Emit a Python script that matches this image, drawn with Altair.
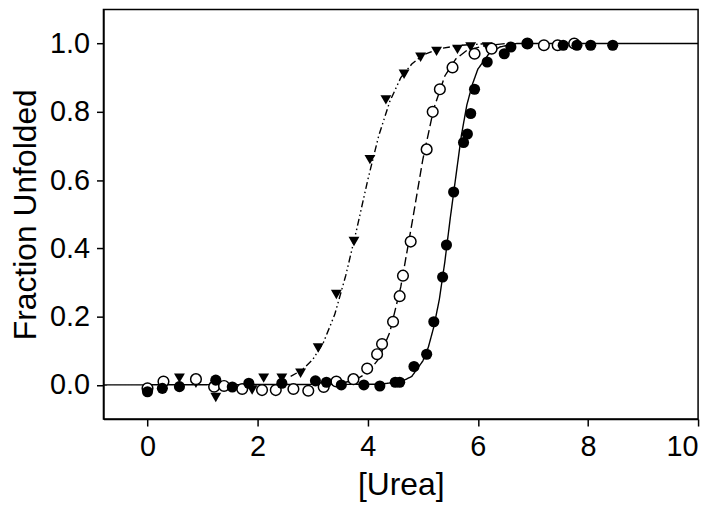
import altair as alt
import pandas as pd

# Data points
filled_x = [0.0, 0.27, 0.58, 1.24, 1.54, 1.84, 2.44, 3.05, 3.25, 3.52, 3.93, 4.22, 4.5, 4.58, 4.84,
            5.07, 5.2, 5.36, 5.43, 5.56, 5.74, 5.81, 5.87, 5.94, 6.17, 6.48, 6.6, 6.9, 7.55, 7.8, 8.05, 8.45]
filled_y = [-0.02, -0.01, -0.005, 0.014, -0.006, 0.005, 0.005, 0.012, 0.008, 0.0, 0.0, -0.003, 0.008, 0.008, 0.054,
            0.09, 0.185, 0.316, 0.41, 0.565, 0.71, 0.735, 0.795, 0.866, 0.946, 0.97, 0.99, 1.0, 0.995, 0.995, 0.995, 0.995]

open_x = [0.0, 0.29, 0.88, 1.21, 1.39, 1.72, 2.08, 2.33, 2.65, 2.92, 3.2, 3.43, 3.74, 3.99, 4.17, 4.26,
          4.46, 4.58, 4.64, 4.78, 5.07, 5.18, 5.31, 5.54, 5.94, 6.25, 6.9, 7.2, 7.45, 7.75]
open_y = [-0.01, 0.01, 0.017, -0.005, -0.003, -0.012, -0.015, -0.015, -0.012, -0.017, -0.006, 0.01, 0.017, 0.048, 0.09, 0.12,
          0.185, 0.26, 0.32, 0.42, 0.69, 0.80, 0.866, 0.93, 0.97, 0.985, 1.0, 0.995, 0.995, 1.0]

tri_x = [0.58, 0.88, 1.24, 1.9, 2.11, 2.44, 2.78, 3.1, 3.43, 3.75, 4.04, 4.33, 4.66, 4.96, 5.25, 5.63, 5.87, 6.17]
tri_y = [0.02, 0.005, -0.037, -0.015, 0.02, 0.02, 0.034, 0.108, 0.265, 0.42, 0.66, 0.835, 0.91, 0.96, 0.977, 0.983, 0.99, 0.99]

# Fitted curves
solid_x = [-0.8, 4.2, 4.6, 4.8, 5.0, 5.1, 5.2, 5.3, 5.4, 5.5, 5.6, 5.7, 5.8, 5.9, 6.0, 6.2, 6.4, 6.7, 10.0]
solid_y = [0.0, 0.002, 0.009, 0.025, 0.07, 0.11, 0.17, 0.25, 0.36, 0.49, 0.61, 0.73, 0.82, 0.88, 0.925, 0.97, 0.99, 1.0, 1.0]

dashed_x = [3.3, 3.6, 3.8, 4.0, 4.2, 4.4, 4.6, 4.8, 5.0, 5.2, 5.4, 5.6, 5.8, 6.1, 6.5]
dashed_y = [0.003, 0.008, 0.017, 0.036, 0.076, 0.154, 0.287, 0.47, 0.66, 0.81, 0.905, 0.955, 0.98, 0.993, 1.0]

dashdot_x = [2.6, 2.8, 3.0, 3.2, 3.4, 3.6, 3.8, 4.0, 4.2, 4.4, 4.6, 4.8, 5.0, 5.3, 5.7, 6.2]
dashdot_y = [0.025, 0.043, 0.074, 0.126, 0.206, 0.32, 0.456, 0.6, 0.73, 0.83, 0.9, 0.94, 0.966, 0.985, 0.995, 1.0]

x_ticks = [0, 2, 4, 6, 8, 10]
y_ticks = [0.0, 0.2, 0.4, 0.6, 0.8, 1.0]

FONT = "Liberation Sans"

xscale = alt.Scale(domain=[-0.8, 10], nice=False, zero=False)
yscale = alt.Scale(domain=[-0.1, 1.1], nice=False, zero=False)

xenc = alt.X("x:Q", scale=xscale, title="[Urea]",
             axis=alt.Axis(values=x_ticks, format="d", grid=False, tickSize=7, labelPadding=7,
                           titlePadding=8))
yenc = alt.Y("y:Q", scale=yscale, title="Fraction Unfolded",
             axis=alt.Axis(values=y_ticks, format=".1f", grid=False, tickSize=7, labelPadding=7,
                           titlePadding=7))


def line_layer(xs, ys, dash):
    df = pd.DataFrame({"x": xs, "y": ys})
    return alt.Chart(df).mark_line(color="black", strokeWidth=1.4, strokeDash=dash).encode(x=xenc, y=yenc)


solid = line_layer(solid_x, solid_y, [1, 0])
dashed = line_layer(dashed_x, dashed_y, [9, 4])
dashdot = line_layer(dashdot_x, dashdot_y, [7, 3, 1.5, 3, 1.5, 3])

tri = alt.Chart(pd.DataFrame({"x": tri_x, "y": tri_y})).mark_point(
    shape="triangle-down", filled=True, color="black", size=120, opacity=1
).encode(x=xenc, y=yenc)

opn = alt.Chart(pd.DataFrame({"x": open_x, "y": open_y})).mark_point(
    shape="circle", filled=True, fill="white", stroke="black", strokeWidth=1.5, size=115, opacity=1
).encode(x=xenc, y=yenc)

fil = alt.Chart(pd.DataFrame({"x": filled_x, "y": filled_y})).mark_point(
    shape="circle", filled=True, color="black", size=125, opacity=1
).encode(x=xenc, y=yenc)

chart = alt.layer(solid, dashed, dashdot, tri, opn, fil).properties(
    width=598, height=412,
    autosize=alt.AutoSizeParams(type="none"),
    padding={"left": 96, "top": 0, "right": 14, "bottom": 85},
    background="white",
).configure_view(
    stroke="black", strokeWidth=1.5
).configure_axis(
    domainColor="black", domainWidth=1.5, tickColor="black", tickWidth=1.5,
    labelFont=FONT, labelFontSize=29, labelColor="black",
    titleFont=FONT, titleFontSize=32, titleFontWeight="normal", titleColor="black",
)

chart.save("out.html", embed_options={"renderer": "svg", "actions": False})
